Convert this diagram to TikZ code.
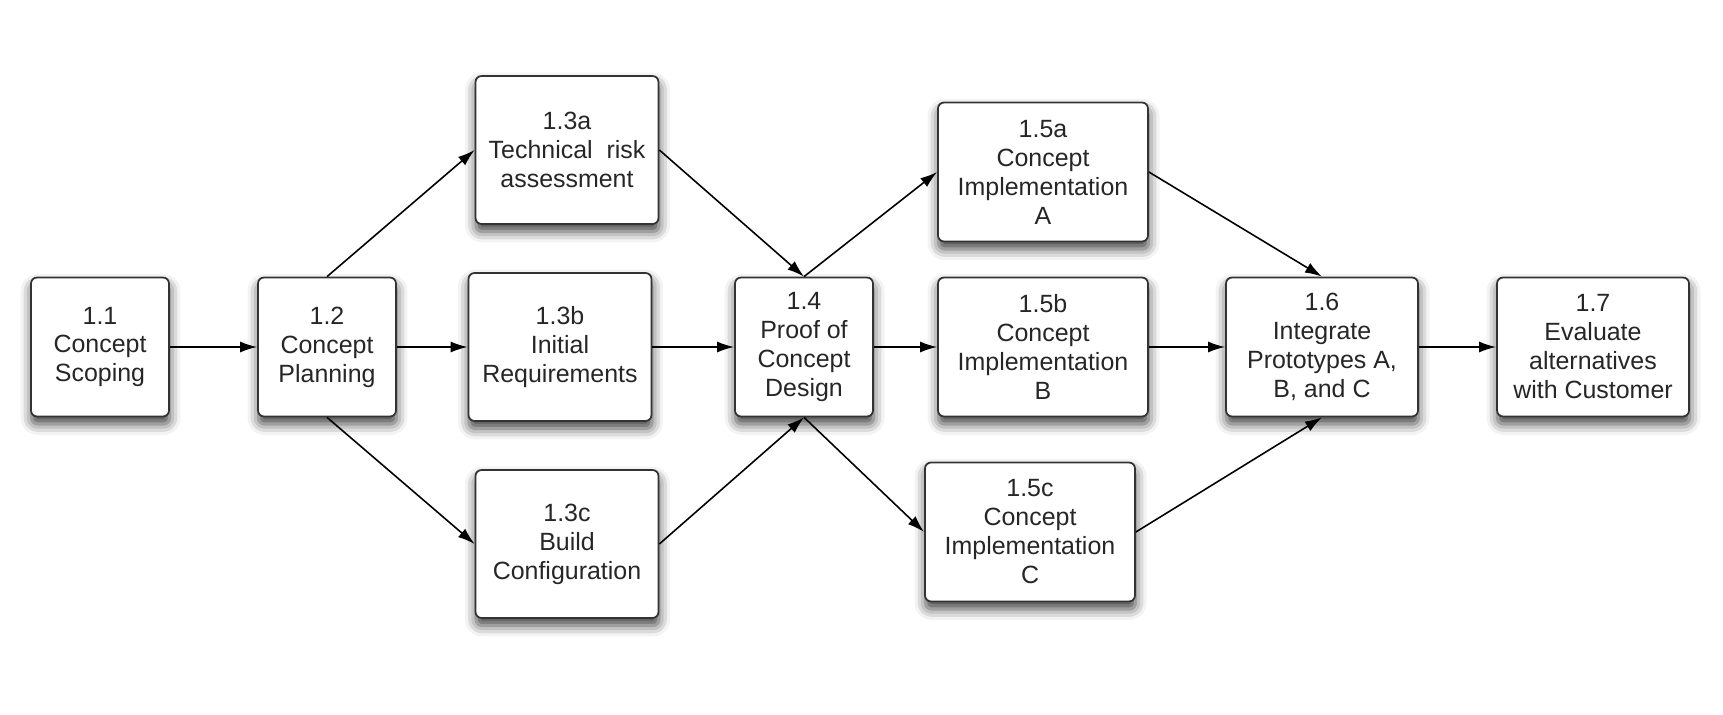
\documentclass[tikz,border=0pt]{standalone}
\usepackage{fontspec}
\setmainfont{Liberation Sans}
\usetikzlibrary{arrows.meta,shadows.blur}

\tikzset{
  task/.style={draw=black!80, fill=white, rounded corners=0.12cm, line width=1pt,
    align=center, inner sep=0pt, text=black!85,
    font=\fontsize{14.2}{16.5}\selectfont,
    minimum width=2.76cm, minimum height=2.78cm,
    blur shadow={shadow xshift=0.01cm, shadow yshift=-0.15cm,
      shadow blur radius=0.22cm, shadow opacity=75}},
  midtask/.style={task, minimum width=3.66cm, minimum height=2.96cm},
  widetask/.style={task, minimum width=4.2cm},
  endtask/.style={task, minimum width=3.84cm},
  flow/.style={-{Latex[length=0.34cm,width=0.22cm]}, line width=0.9pt},
}

\begin{document}
\begin{tikzpicture}[x=0.02cm, y=-0.02cm]
\useasboundingbox (0,0) rectangle (1723,715);

% Scoping and planning
\node[task] (p11) at (100,347) {1.1\\Concept\\Scoping};
\node[task] (p12) at (327,347) {1.2\\Concept\\Planning};

% Third level tasks
\node[midtask] (p13a) at (567,150) {1.3a\\Technical\ \ risk\\assessment};
\node[midtask] (p13b) at (560,347) {1.3b\\Initial\\Requirements};
\node[midtask] (p13c) at (567,544) {1.3c\\Build\\Configuration};

% Proof of concept
\node[task] (p14) at (804,347) {1.4\\Proof of\\Concept\\Design};

% Implementations
\node[widetask] (p15a) at (1043,172) {1.5a\\Concept\\Implementation\\A};
\node[widetask] (p15b) at (1043,347) {1.5b\\Concept\\Implementation\\B};
\node[widetask] (p15c) at (1030,532) {1.5c\\Concept\\Implementation\\C};

% Integration and evaluation
\node[endtask] (p16) at (1322,347) {1.6\\Integrate\\Prototypes A,\\B, and C};
\node[endtask] (p17) at (1593,347) {1.7\\Evaluate\\alternatives\\with Customer};

% Arrows
\draw[flow] (p11.east) -- (p12.west);
\draw[flow] (p12.north) -- (p13a.west);
\draw[flow] (p12.east) -- (p13b.west);
\draw[flow] (p12.south) -- (p13c.west);
\draw[flow] (p13a.east) -- (p14.north);
\draw[flow] (p13b.east) -- (p14.west);
\draw[flow] (p13c.east) -- (p14.south);
\draw[flow] (p14.north) -- (p15a.west);
\draw[flow] (p14.east) -- (p15b.west);
\draw[flow] (p14.south) -- (p15c.west);
\draw[flow] (p15a.east) -- (p16.north);
\draw[flow] (p15b.east) -- (p16.west);
\draw[flow] (p15c.east) -- (p16.south);
\draw[flow] (p16.east) -- (p17.west);

\end{tikzpicture}
\end{document}
